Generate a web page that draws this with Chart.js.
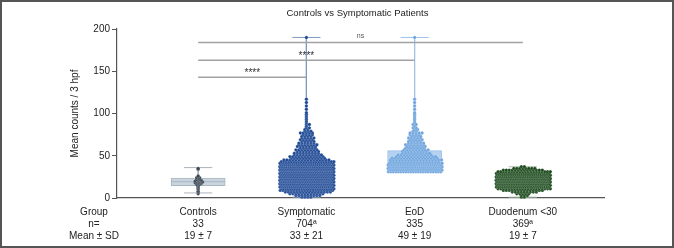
<!DOCTYPE html>
<html><head><meta charset="utf-8">
<script src="https://cdn.jsdelivr.net/npm/chart.js@4.4.1/dist/chart.umd.min.js"></script>
<style>html,body{margin:0;padding:0;background:#fff}canvas{display:block}</style>
</head><body>
<canvas id="c" width="674" height="248"></canvas>
<script>
// ---------- data ----------
const titleText = 'Controls vs Symptomatic Patients';
const yAxisTitle = 'Mean counts / 3 hpf';
const categories = ['Controls', 'Symptomatic', 'EoD', 'Duodenum <30'];
const nLabels = ['33', '704ª', '335', '369ª'];
const meanSdLabels = ['19 ± 7', '33 ± 21', '49 ± 19', '19 ± 7'];
const rowHeaders = ['Group', 'n=', 'Mean ± SD'];
const yTicks = [0, 50, 100, 150, 200];

// individual control values
const controlsValues = [35, 34, 26, 25, 24, 24, 23, 22, 22, 21, 21, 20, 20, 20, 19, 19, 19, 18, 18, 18, 17, 17, 16, 16, 15, 14, 13, 12, 11, 10, 8, 7, 5];

// histogram levels / counts
const symptomaticLevels = [1,3,5,7,9,11,13,15,17,19,21,23,25,27,29,31,33,35,37,39,41,43,45,47,49,51,53,55,57,59,61,63,65,67,69,71,73,75,77,79,81,83,85,87,89,91,93,95,97,99,101,105,109,113,117,190];
const symptomaticCounts = [4,9,12,16,20,24,28,30,30,32,30,30,30,30,30,30,32,32,30,28,26,22,16,12,12,10,9,8,8,6,7,7,6,5,5,5,4,4,5,3,2,2,1,2,1,1,1,1,1,1,1,1,1,1,1,1];

const eodLevels = [31,33,35,37,39,41,43,45,47,49,51,53,55,57,59,61,63,65,67,69,71,73,75,77,79,81,83,85,87,89,91,93,95,97,99,101,105,109,113,117,190];
const eodCounts = [22,28,28,27,26,24,17,18,16,14,12,10,9,9,7,7,7,6,5,5,5,4,4,5,2,2,2,1,2,1,1,1,1,1,1,1,1,1,1,1,1];

const duodenumLevels = [1,3,5,7,9,11,13,15,17,19,21,23,25,27,29,31,33,35,37];
const duodenumCounts = [2,3,5,9,14,20,26,30,32,33,33,32,31,29,26,20,14,8,2];

// box plot summaries
const boxQ1 = [14.5, 17, 33.5, 14];
const boxMedian = [19.3, 28, 44, 19.5];
const boxQ3 = [23.6, 43, 56, 25];
const whiskerLo = [6, 1, 31, 1];
const whiskerHi = [36, 190, 190, 37];

// significance brackets
const sigFrom = [1, 1, 1];
const sigTo = [2, 3, 4];
const sigY = [143, 163, 184];
const sigText = ['****', '****', 'ns'];

// ---------- styles ----------
const FONT = '"Liberation Sans", Arial, Helvetica, sans-serif';
const pointColors = ['#36434f', '#1d4894', '#6fa5de', '#1c4a1d'];
const boxFill = ['#c9d5de', '#a6c7ee', '#b4d1f1', '#c6d6c6'];
const boxBorder = ['#a9b6c0', '#8fb3e2', '#9cc0ea', '#a7bca7'];
const whiskerColor = ['#aab4bc', '#7f98c4', '#9fc2ea', '#a9bda9'];
const PX_PER_UNIT = 108.2, MAX_SP = 3, FIT_W = 55;
const CAP_HALF = 0.13, MED_HALF = 0.25;

function swarmFromHist(center, levels, counts) {
  const pts = [];
  levels.forEach((v, i) => {
    const c = counts[i];
    const sp = Math.min(MAX_SP, FIT_W / c) / PX_PER_UNIT;
    const shift = (c > 1 && i % 2) ? sp / 2 : 0;
    for (let k = 0; k < c; k++) pts.push({x: center + (k - (c - 1) / 2) * sp + shift, y: v});
  });
  return pts;
}
function swarmFromValues(center, values) {
  const rows = {};
  values.forEach(v => { const key = Math.round(v); (rows[key] = rows[key] || []).push(v); });
  const pts = [];
  Object.keys(rows).forEach(k => {
    const r = rows[k], c = r.length;
    const sp = Math.min(MAX_SP, FIT_W / c) / PX_PER_UNIT;
    const shift = (c > 1 && k % 2) ? sp / 2 : 0;
    r.forEach((v, j) => pts.push({x: center + (j - (c - 1) / 2) * sp + shift, y: v}));
  });
  return pts;
}

const swarms = [
  swarmFromValues(1, controlsValues),
  swarmFromHist(2, symptomaticLevels, symptomaticCounts),
  swarmFromHist(3, eodLevels, eodCounts),
  swarmFromHist(4, duodenumLevels, duodenumCounts)
];

const datasets = [];
datasets.push({
  type: 'bar',
  data: categories.map((c, i) => ({x: i + 1, y: [boxQ1[i], boxQ3[i]]})),
  backgroundColor: boxFill, borderColor: boxBorder, borderWidth: 1,
  borderSkipped: false, barThickness: 54, order: 10
});
categories.forEach((c, i) => {
  const cx = i + 1;
  datasets.push({
    type: 'line', order: 11, showLine: true, spanGaps: false, pointRadius: 0,
    borderColor: whiskerColor[i], borderWidth: 1, clip: false,
    data: [
      {x: cx - CAP_HALF, y: whiskerHi[i]}, {x: cx + CAP_HALF, y: whiskerHi[i]}, {x: cx, y: null},
      {x: cx, y: whiskerHi[i]}, {x: cx, y: whiskerLo[i]}, {x: cx, y: null},
      {x: cx - CAP_HALF, y: whiskerLo[i]}, {x: cx + CAP_HALF, y: whiskerLo[i]}
    ]
  });
  datasets.push({
    type: 'line', order: 9, showLine: true, pointRadius: 0,
    borderColor: boxBorder[i], borderWidth: 1,
    data: [{x: cx - MED_HALF, y: boxMedian[i]}, {x: cx + MED_HALF, y: boxMedian[i]}]
  });
  datasets.push({
    type: 'scatter', order: 5, data: swarms[i], clip: false,
    pointRadius: 1.7, pointBackgroundColor: pointColors[i],
    pointBorderColor: 'rgba(255,255,255,0.45)', pointBorderWidth: 0.4, pointHoverRadius: 1.7
  });
});
sigY.forEach((y, i) => {
  datasets.push({
    type: 'line', order: 1, showLine: true, pointRadius: 0,
    borderColor: '#a2a2a2', borderWidth: 1.5,
    data: [{x: sigFrom[i], y}, {x: sigTo[i], y}]
  });
});

const decor = {
  id: 'decor',
  beforeDraw(chart) {
    const ctx = chart.ctx;
    ctx.save(); ctx.fillStyle = '#fff'; ctx.fillRect(0, 0, chart.width, chart.height); ctx.restore();
  },
  afterDraw(chart) {
    const {ctx, chartArea, scales} = chart;
    ctx.save();
    ctx.fillStyle = '#222'; ctx.font = '9.5px ' + FONT;
    ctx.textAlign = 'center'; ctx.textBaseline = 'middle';
    ctx.fillText(titleText, (chartArea.left + chartArea.right) / 2 - 3, 13);
    ctx.font = '10px ' + FONT; ctx.fillStyle = '#222';
    rowHeaders.forEach((t, i) => ctx.fillText(t, 94, chartArea.bottom + 8 + 6 + i * 12));
    sigText.forEach((t, i) => {
      const x = scales.x.getPixelForValue((sigFrom[i] + sigTo[i]) / 2);
      const y = scales.y.getPixelForValue(sigY[i]);
      ctx.textBaseline = 'alphabetic';
      if (t === 'ns') { ctx.font = '7px ' + FONT; ctx.fillStyle = '#555'; ctx.fillText(t, x, y - 4.5); }
      else { ctx.font = '10px ' + FONT; ctx.fillStyle = '#333'; ctx.fillText(t, x, y - 1); }
    });
    ctx.strokeStyle = '#555'; ctx.lineWidth = 2;
    ctx.strokeRect(1, 1, chart.width - 2, chart.height - 2);
    ctx.restore();
  }
};

new Chart(document.getElementById('c'), {
  type: 'scatter',
  data: {datasets},
  options: {
    responsive: false, animation: false, devicePixelRatio: 1,
    layout: {padding: {left: 0, top: 29, right: 70, bottom: 0}},
    plugins: {legend: {display: false}, tooltip: {enabled: false}, title: {display: false}},
    scales: {
      x: {
        type: 'linear', min: 0.25, max: 4.75, offset: false,
        afterBuildTicks: s => { s.ticks = categories.map((c, i) => ({value: i + 1})); },
        afterFit: s => { s.height = 50; },
        grid: {display: false, drawTicks: false},
        border: {display: true, color: '#555', width: 1.2},
        ticks: {
          autoSkip: false, maxRotation: 0, padding: 8, color: '#222',
          font: {family: FONT, size: 10, lineHeight: 1.2},
          callback: v => { const i = Math.round(v) - 1; return [categories[i], nLabels[i], meanSdLabels[i]]; }
        }
      },
      y: {
        type: 'linear', min: 0, max: 200,
        afterBuildTicks: s => { s.ticks = yTicks.map(v => ({value: v})); },
        afterFit: s => { s.width = 117; },
        grid: {display: true, drawOnChartArea: false, drawTicks: true, tickLength: 5, color: '#555', lineWidth: 1},
        border: {display: true, color: '#555', width: 1.2},
        ticks: {padding: 2, color: '#222', font: {family: FONT, size: 10}},
        title: {display: true, text: yAxisTitle, color: '#222', font: {family: FONT, size: 10}, padding: {top: 69, bottom: 0}}
      }
    }
  },
  plugins: [decor]
});
</script>
</body></html>
